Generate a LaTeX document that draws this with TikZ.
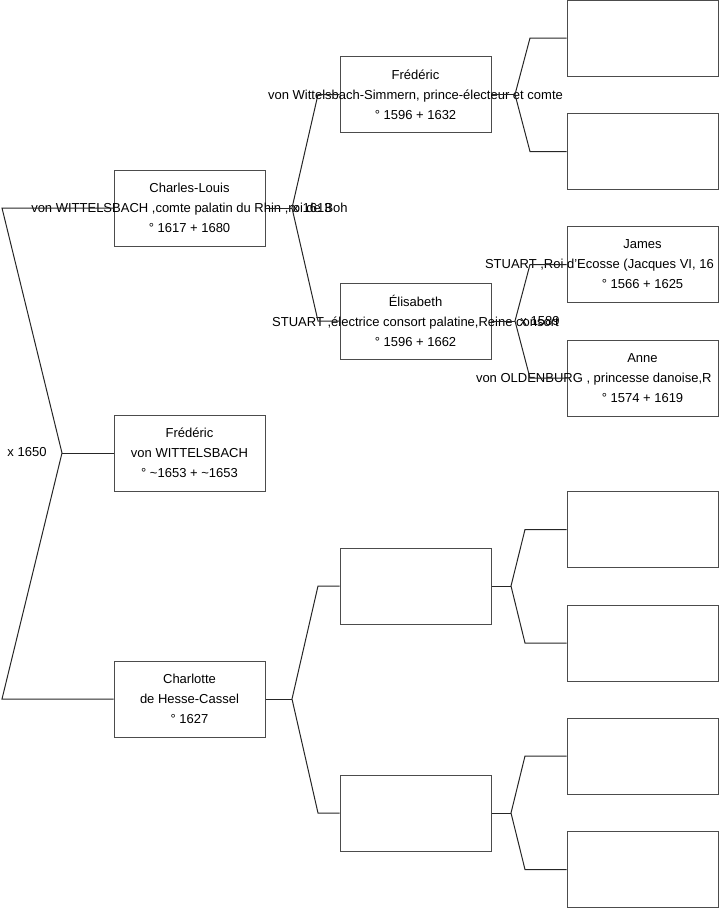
\documentclass[tikz,border=0pt]{standalone}
\usepackage{fontspec}
\setmainfont{Liberation Sans}
\usetikzlibrary{positioning}

% a line that may run out of its box, kept centred
\newcommand{\overrun}[1]{\makebox[0pt]{#1}}

\begin{document}
\begin{tikzpicture}[
  x=1pt, y=-1pt,
  font=\fontsize{13}{20}\selectfont,
  link/.style={line width=1pt, draw=black!85},
  person/.style={draw=black!70, line width=1pt, minimum width=151pt, minimum height=76pt, inner sep=0pt, align=center},
  wed/.style={inner sep=0pt}
]
\useasboundingbox (0,0) rectangle (719,908);

% Generation 1
\node[person] (charles) at (189.5,208) {Charles-Louis\\\overrun{von WITTELSBACH ,comte palatin du Rhin ,roi de Boh}\\° 1617 + 1680};
\node[person] (fred) at (189.5,453) {Frédéric\\von WITTELSBACH\\° \textasciitilde1653 + \textasciitilde1653};
\node[person] (charlotte) at (189.5,699) {Charlotte\\de Hesse-Cassel\\° 1627};

% Generation 2
\node[person] (fredp) at (415.5,94.5) {Frédéric\\\overrun{von Wittelsbach-Simmern, prince-électeur et comte}\\° 1596 + 1632};
\node[person] (elisa) at (415.5,321) {Élisabeth\\\overrun{STUART ,électrice consort palatine,Reine consort}\\° 1596 + 1662};
\node[person] (hessa) at (415.5,586) {};
\node[person] (hessb) at (415.5,813) {};

% Generation 3
\node[person] (ffa) at (642.5,38) {};
\node[person] (ffb) at (642.5,151.5) {};
\node[person] (james) at (642.5,264.5) {James\\\overrun{\makebox[315pt][l]{STUART ,Roi d'Ecosse (Jacques VI, 16}}\\° 1566 + 1625};
\node[person] (anne) at (642.5,378) {Anne\\\overrun{\makebox[333pt][l]{von OLDENBURG , princesse danoise,R}}\\° 1574 + 1619};
\node[person] (haa) at (642.5,529.5) {};
\node[person] (hab) at (642.5,643) {};
\node[person] (hba) at (642.5,756) {};
\node[person] (hbb) at (642.5,869.5) {};

% Unions
\coordinate (u0) at (62,453);   \coordinate (u0a) at (2,208);   \coordinate (u0b) at (2,699);
\coordinate (u1) at (292,208);  \coordinate (u1a) at (318,94.5); \coordinate (u1b) at (318,321);
\coordinate (u2) at (515,94.5); \coordinate (u2a) at (530,38);   \coordinate (u2b) at (530,151.5);
\coordinate (u3) at (515,321);  \coordinate (u3a) at (530,264.5); \coordinate (u3b) at (530,378);
\coordinate (u4) at (292,699);  \coordinate (u4a) at (318,586);  \coordinate (u4b) at (318,813);
\coordinate (u5) at (511,586);  \coordinate (u5a) at (525,529.5); \coordinate (u5b) at (525,643);
\coordinate (u6) at (511,813);  \coordinate (u6a) at (525,756);  \coordinate (u6b) at (525,869.5);

\node[wed] (m0) at (27,452) {x 1650};
\node[wed] (m1) at (312,208) {x 1613};
\node[wed] (m3) at (540,321) {x 1589};

% Links
\draw[link] (fred.west) -- (u0);
\draw[link] (charles.west) -- (u0a) -- (u0) -- (u0b) -- (charlotte.west);

\draw[link] (charles.east) -- (u1);
\draw[link] (fredp.west) -- (u1a) -- (u1) -- (u1b) -- (elisa.west);
\draw[link] (charlotte.east) -- (u4);
\draw[link] (hessa.west) -- (u4a) -- (u4) -- (u4b) -- (hessb.west);

\draw[link] (fredp.east) -- (u2);
\draw[link] (ffa.west) -- (u2a) -- (u2) -- (u2b) -- (ffb.west);
\draw[link] (elisa.east) -- (u3);
\draw[link] (james.west) -- (u3a) -- (u3) -- (u3b) -- (anne.west);
\draw[link] (hessa.east) -- (u5);
\draw[link] (haa.west) -- (u5a) -- (u5) -- (u5b) -- (hab.west);
\draw[link] (hessb.east) -- (u6);
\draw[link] (hba.west) -- (u6a) -- (u6) -- (u6b) -- (hbb.west);
\end{tikzpicture}
\end{document}
